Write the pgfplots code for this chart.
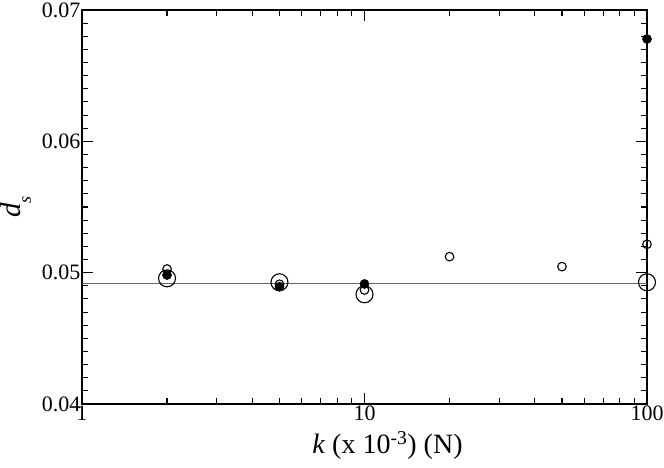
\documentclass[border=0pt]{standalone}
\usepackage{pgfplots}
\pgfplotsset{compat=1.18}
\usepackage{fontspec}
\setmainfont{Liberation Serif}
\begin{document}
\begin{tikzpicture}
\begin{axis}[
  at={(0pt,0pt)}, anchor=south west,
  scale only axis, width=565pt, height=394pt,
  xmode=log, xmin=1, xmax=100, ymin=0.04, ymax=0.07,
  xtick={1,10,100}, xticklabels={1,10,100},
  minor xtick={2,3,4,5,6,7,8,9,20,30,40,50,60,70,80,90},
  ytick={0.04,0.05,0.06,0.07},
  minor ytick={0.041,0.042,0.043,0.044,0.045,0.046,0.047,0.048,0.049,0.051,0.052,0.053,0.054,0.055,0.056,0.057,0.058,0.059,0.061,0.062,0.063,0.064,0.065,0.066,0.067,0.068,0.069},
  scaled y ticks=false,
  yticklabel style={/pgf/number format/fixed,/pgf/number format/precision=2,/pgf/number format/fixed zerofill},
  /pgf/number format/assume math mode=true,
  tick align=inside,
  major tick length=11pt, minor tick length=6pt,
  axis line style={line width=1.2pt},
  every tick/.style={line width=1.1pt, black},
  tick label style={font=\fontsize{22}{26}\selectfont},
  xticklabel style={yshift=2pt},
  yticklabel style={xshift=2pt},
  xlabel={\fontsize{28}{32}\selectfont\textit{k} (x 10\textsuperscript{-3}) (N)},
  ylabel={\fontsize{29}{32}\selectfont\textit{d}\raisebox{-10pt}{\fontsize{18}{20}\selectfont\textit{s}}},
  xlabel style={yshift=-4pt, xshift=23pt},
  ylabel style={yshift=4pt},
  clip=false,
]
\addplot[gray!80!black, line width=1.3pt] coordinates {(1,0.04916) (100,0.04916)};
\addplot[only marks, mark=o, mark size=4.3pt, mark options={line width=1.1pt, black}] coordinates {
(2,0.05028) (5,0.04912) (10,0.04868) (20,0.05122) (50,0.05046) (100,0.05216)};
\addplot[only marks, mark=o, mark size=8.5pt, mark options={line width=1.1pt, black}] coordinates {
(2,0.04957) (5,0.04927) (10,0.04835) (100,0.04927)};
\addplot[only marks, mark=*, mark size=4.6pt, mark options={black, fill=black}] coordinates {
(2,0.04982) (5,0.04893) (10,0.04914) (100,0.06779)};
\end{axis}
\pgfresetboundingbox
\path (-82pt,-64pt) rectangle (582pt,404pt);
\end{tikzpicture}
\end{document}
